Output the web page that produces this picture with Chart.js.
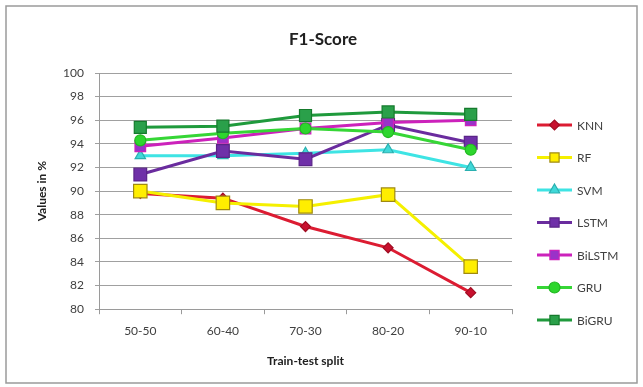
<!DOCTYPE html>
<html>
<head>
<meta charset="utf-8">
<script src="https://cdn.jsdelivr.net/npm/chart.js@4/dist/chart.umd.min.js"></script>
<style>
  html, body { margin: 0; padding: 0; background: #ffffff; }
  #wrap { width: 643px; height: 387px; position: relative; }
</style>
</head>
<body>
<div id="wrap"><canvas id="c" width="643" height="387"></canvas></div>
<script>
// Train/test splits on the x axis
const categories = ['50-50', '60-40', '70-30', '80-20', '90-10'];

// F1-score (%) per model
const knn    = [89.8, 89.4, 87.0, 85.2, 81.4];
const rf     = [90.0, 89.0, 88.7, 89.7, 83.6];
const svm    = [93.0, 93.0, 93.2, 93.5, 92.0];
const lstm   = [91.4, 93.4, 92.7, 95.6, 94.1];
const bilstm = [93.8, 94.5, 95.3, 95.8, 96.0];
const gru    = [94.3, 94.9, 95.3, 95.0, 93.5];
const bigru  = [95.4, 95.5, 96.4, 96.7, 96.5];

const seriesNames = ['KNN', 'RF', 'SVM', 'LSTM', 'BiLSTM', 'GRU', 'BiGRU'];
const seriesValues = [knn, rf, svm, lstm, bilstm, gru, bigru];

const chartTitle = 'F1-Score';

// y axis range
const yMin = 80, yMax = 100, yStep = 2;

const FONT = 'Lato, "Liberation Sans", sans-serif';

const styles = [
  { line: '#dc1c32', fill: '#c8102e', border: '#a00d22', shape: 'rectRot',  r: 5 },
  { line: '#f5f000', fill: '#ffee00', border: '#a08a10', shape: 'rect',     r: 9.5 },
  { line: '#3ee4e4', fill: '#40d8d8', border: '#2ab0b0', shape: 'triangle', r: 6 },
  { line: '#6a2c9e', fill: '#6f30a8', border: '#5a2488', shape: 'rect',     r: 9 },
  { line: '#cc22bb', fill: '#9a32c8', border: '#cc22bb', shape: 'rect',     r: 7.5 },
  { line: '#36d636', fill: '#2ed62e', border: '#22b822', shape: 'circle',   r: 5.5 },
  { line: '#1f9a3c', fill: '#2aa04a', border: '#157a2c', shape: 'rect',     r: 8.5 }
];

const datasets = seriesNames.map((name, i) => ({
  label: name,
  data: seriesValues[i],
  borderColor: styles[i].line,
  backgroundColor: styles[i].fill,
  pointBorderColor: styles[i].border,
  pointBackgroundColor: styles[i].fill,
  pointBorderWidth: 1.2,
  pointStyle: styles[i].shape,
  pointRadius: styles[i].r,
  pointHoverRadius: styles[i].r,
  borderWidth: 3,
  tension: 0,
  order: seriesNames.length - i
}));

// Frame and heading of the chart
const framePlugin = {
  id: 'frame',
  beforeDraw(chart) {
    const ctx = chart.ctx;
    ctx.save();
    ctx.fillStyle = '#ffffff';
    ctx.fillRect(0, 0, chart.width, chart.height);
    ctx.strokeStyle = '#9a9a9a';
    ctx.lineWidth = 1.5;
    ctx.strokeRect(6, 6, chart.width - 12, chart.height - 10);
    ctx.fillStyle = '#202020';
    ctx.font = 'bold 17px ' + FONT;
    ctx.textAlign = 'center';
    ctx.textBaseline = 'middle';
    ctx.fillText(chartTitle, 323, 40);
    ctx.restore();
  }
};

// Legend on the right: short line with the series marker, then the name
const sideLegend = {
  id: 'sideLegend',
  afterDraw(chart) {
    const ctx = chart.ctx;
    const x0 = 537, lineLen = 35, top = 125, gap = 32.5;
    ctx.save();
    chart.data.datasets.forEach((ds, i) => {
      const y = top + i * gap;
      ctx.strokeStyle = ds.borderColor;
      ctx.lineWidth = 3;
      ctx.beginPath();
      ctx.moveTo(x0, y);
      ctx.lineTo(x0 + lineLen, y);
      ctx.stroke();
      ctx.fillStyle = ds.pointBackgroundColor;
      ctx.strokeStyle = ds.pointBorderColor;
      ctx.lineWidth = 1.2;
      Chart.helpers.drawPoint(ctx, {
        pointStyle: ds.pointStyle,
        rotation: 0,
        radius: Math.min(ds.pointRadius, 6.5),
        borderWidth: 1.2
      }, x0 + lineLen / 2, y);
      ctx.fillStyle = '#404040';
      ctx.font = '12px ' + FONT;
      ctx.textBaseline = 'middle';
      ctx.textAlign = 'left';
      ctx.fillText(ds.label, x0 + lineLen + 5, y + 1);
    });
    ctx.restore();
  }
};

new Chart(document.getElementById('c'), {
  type: 'line',
  data: { labels: categories, datasets },
  plugins: [framePlugin, sideLegend],
  options: {
    responsive: false,
    animation: false,
    devicePixelRatio: 1,
    layout: { padding: { top: 73, right: 131, bottom: 19, left: 35 } },
    plugins: {
      legend: { display: false },
      tooltip: { enabled: false },
      title: { display: false }
    },
    scales: {
      x: {
        offset: true,
        grid: {
          display: true,
          offset: true,
          drawOnChartArea: false,
          drawTicks: true,
          tickLength: 5,
          color: '#9a9a9a'
        },
        border: { display: true, color: '#9a9a9a', width: 1 },
        ticks: { color: '#404040', font: { family: FONT, size: 12 }, padding: 10, maxRotation: 0 },
        title: {
          display: true,
          text: 'Train-test split',
          color: '#202020',
          font: { family: FONT, size: 12, weight: 'bold' },
          padding: { top: 5, bottom: 0 }
        }
      },
      y: {
        min: yMin,
        max: yMax,
        afterFit(scale) { scale.width = 64; },
        ticks: { stepSize: yStep, color: '#404040', font: { family: FONT, size: 12 }, padding: 11 },
        grid: { color: '#a0a0a0', lineWidth: 1, tickLength: 4, drawTicks: true },
        border: { display: true, color: '#9a9a9a', width: 1 },
        title: {
          display: true,
          text: 'Values in %',
          color: '#202020',
          font: { family: FONT, size: 12, weight: 'bold' },
          padding: { top: 0, bottom: 4 }
        }
      }
    }
  }
});
</script>
</body>
</html>
